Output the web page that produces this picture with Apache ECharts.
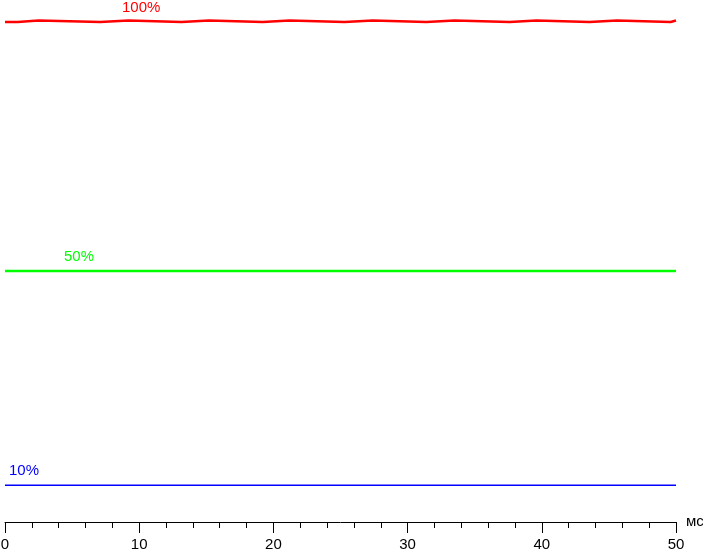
<!DOCTYPE html>
<html>
<head>
<meta charset="utf-8">
<script src="https://cdn.jsdelivr.net/npm/echarts@6/dist/echarts.min.js"></script>
<style>html,body{margin:0;padding:0;background:#fff}#c{width:703px;height:550px}</style>
</head>
<body>
<div id="c"></div>
<script>
// time in ms, value in relative brightness units
const redT = [0, 0.95, 0.97, 2.5, 2.55, 7.1, 7.15, 9.2, 9.25, 13.15, 13.19, 15.2, 15.25, 19.2, 19.22, 21.2, 21.25, 25.3, 25.33, 27.4, 27.45, 31.4, 31.45, 33.5, 33.55, 37.6, 37.63, 39.6, 39.65, 43.55, 43.59, 45.6, 45.65, 49.6, 49.63, 50];
const redV = [100.0, 100.0, 100.3, 100.3, 100.0, 100.0, 100.3, 100.3, 100.0, 100.0, 100.3, 100.3, 100.0, 100.0, 100.3, 100.3, 100.0, 100.0, 100.3, 100.3, 100.0, 100.0, 100.3, 100.3, 100.0, 100.0, 100.3, 100.3, 100.0, 100.0, 100.3, 100.3, 100.0, 100.0, 100.3, 100.3];
const greenT = [0, 10, 20, 30, 40, 50];
const greenV = [50.2, 50.2, 50.2, 50.2, 50.2, 50.2];
const blueT = [0, 10, 20, 30, 40, 50];
const blueV = [7.35, 7.35, 7.35, 7.35, 7.35, 7.35];
const xTicks = [0, 10, 20, 30, 40, 50];
const seriesLabels = ['100%', '50%', '10%'];
const xName = 'мс';

const zip = (t, v) => t.map((x, i) => [x, v[i]]);
const chart = echarts.init(document.getElementById('c'), null, {renderer: 'canvas'});
const font = 'Arial, "Liberation Sans", sans-serif';
chart.setOption({
  animation: false,
  backgroundColor: '#fff',
  grid: {left: 5, right: 27, top: 0, bottom: 28, containLabel: false, outerBoundsMode: 'none'},
  xAxis: {
    type: 'value', min: 0, max: 50, interval: 10,
    name: xName, nameLocation: 'end', nameGap: 10,
    nameTextStyle: {color: '#000', fontSize: 15, fontFamily: font, verticalAlign: 'middle'},
    axisLine: {show: true, lineStyle: {color: '#000', width: 1}},
    axisTick: {show: true, length: 11, lineStyle: {color: '#000', width: 1}},
    minorTick: {show: true, splitNumber: 5, length: 6, lineStyle: {color: '#000', width: 1}},
    axisLabel: {color: '#000', fontSize: 15, fontFamily: font, margin: 15,
      formatter: v => xTicks.includes(v) ? String(v) : ''},
    splitLine: {show: false}
  },
  yAxis: {type: 'value', min: 0, max: 104.4, show: false, splitLine: {show: false}},
  series: [
    {type: 'line', data: zip(redT, redV), symbol: 'none', lineStyle: {color: '#ff0000', width: 2.5}},
    {type: 'line', data: zip(greenT, greenV), symbol: 'none', lineStyle: {color: '#00ff00', width: 2.5}},
    {type: 'line', data: zip(blueT, blueV), symbol: 'none', lineStyle: {color: '#0000ff', width: 1.5}}
  ],
  graphic: [
    {type: 'text', left: 122, top: 0, style: {text: seriesLabels[0], fill: '#ff0000', font: '15px ' + font}},
    {type: 'text', left: 64, top: 249, style: {text: seriesLabels[1], fill: '#00ff00', font: '15px ' + font}},
    {type: 'text', left: 9, top: 463, style: {text: seriesLabels[2], fill: '#0000ff', font: '15px ' + font}}
  ]
});
</script>
</body>
</html>
